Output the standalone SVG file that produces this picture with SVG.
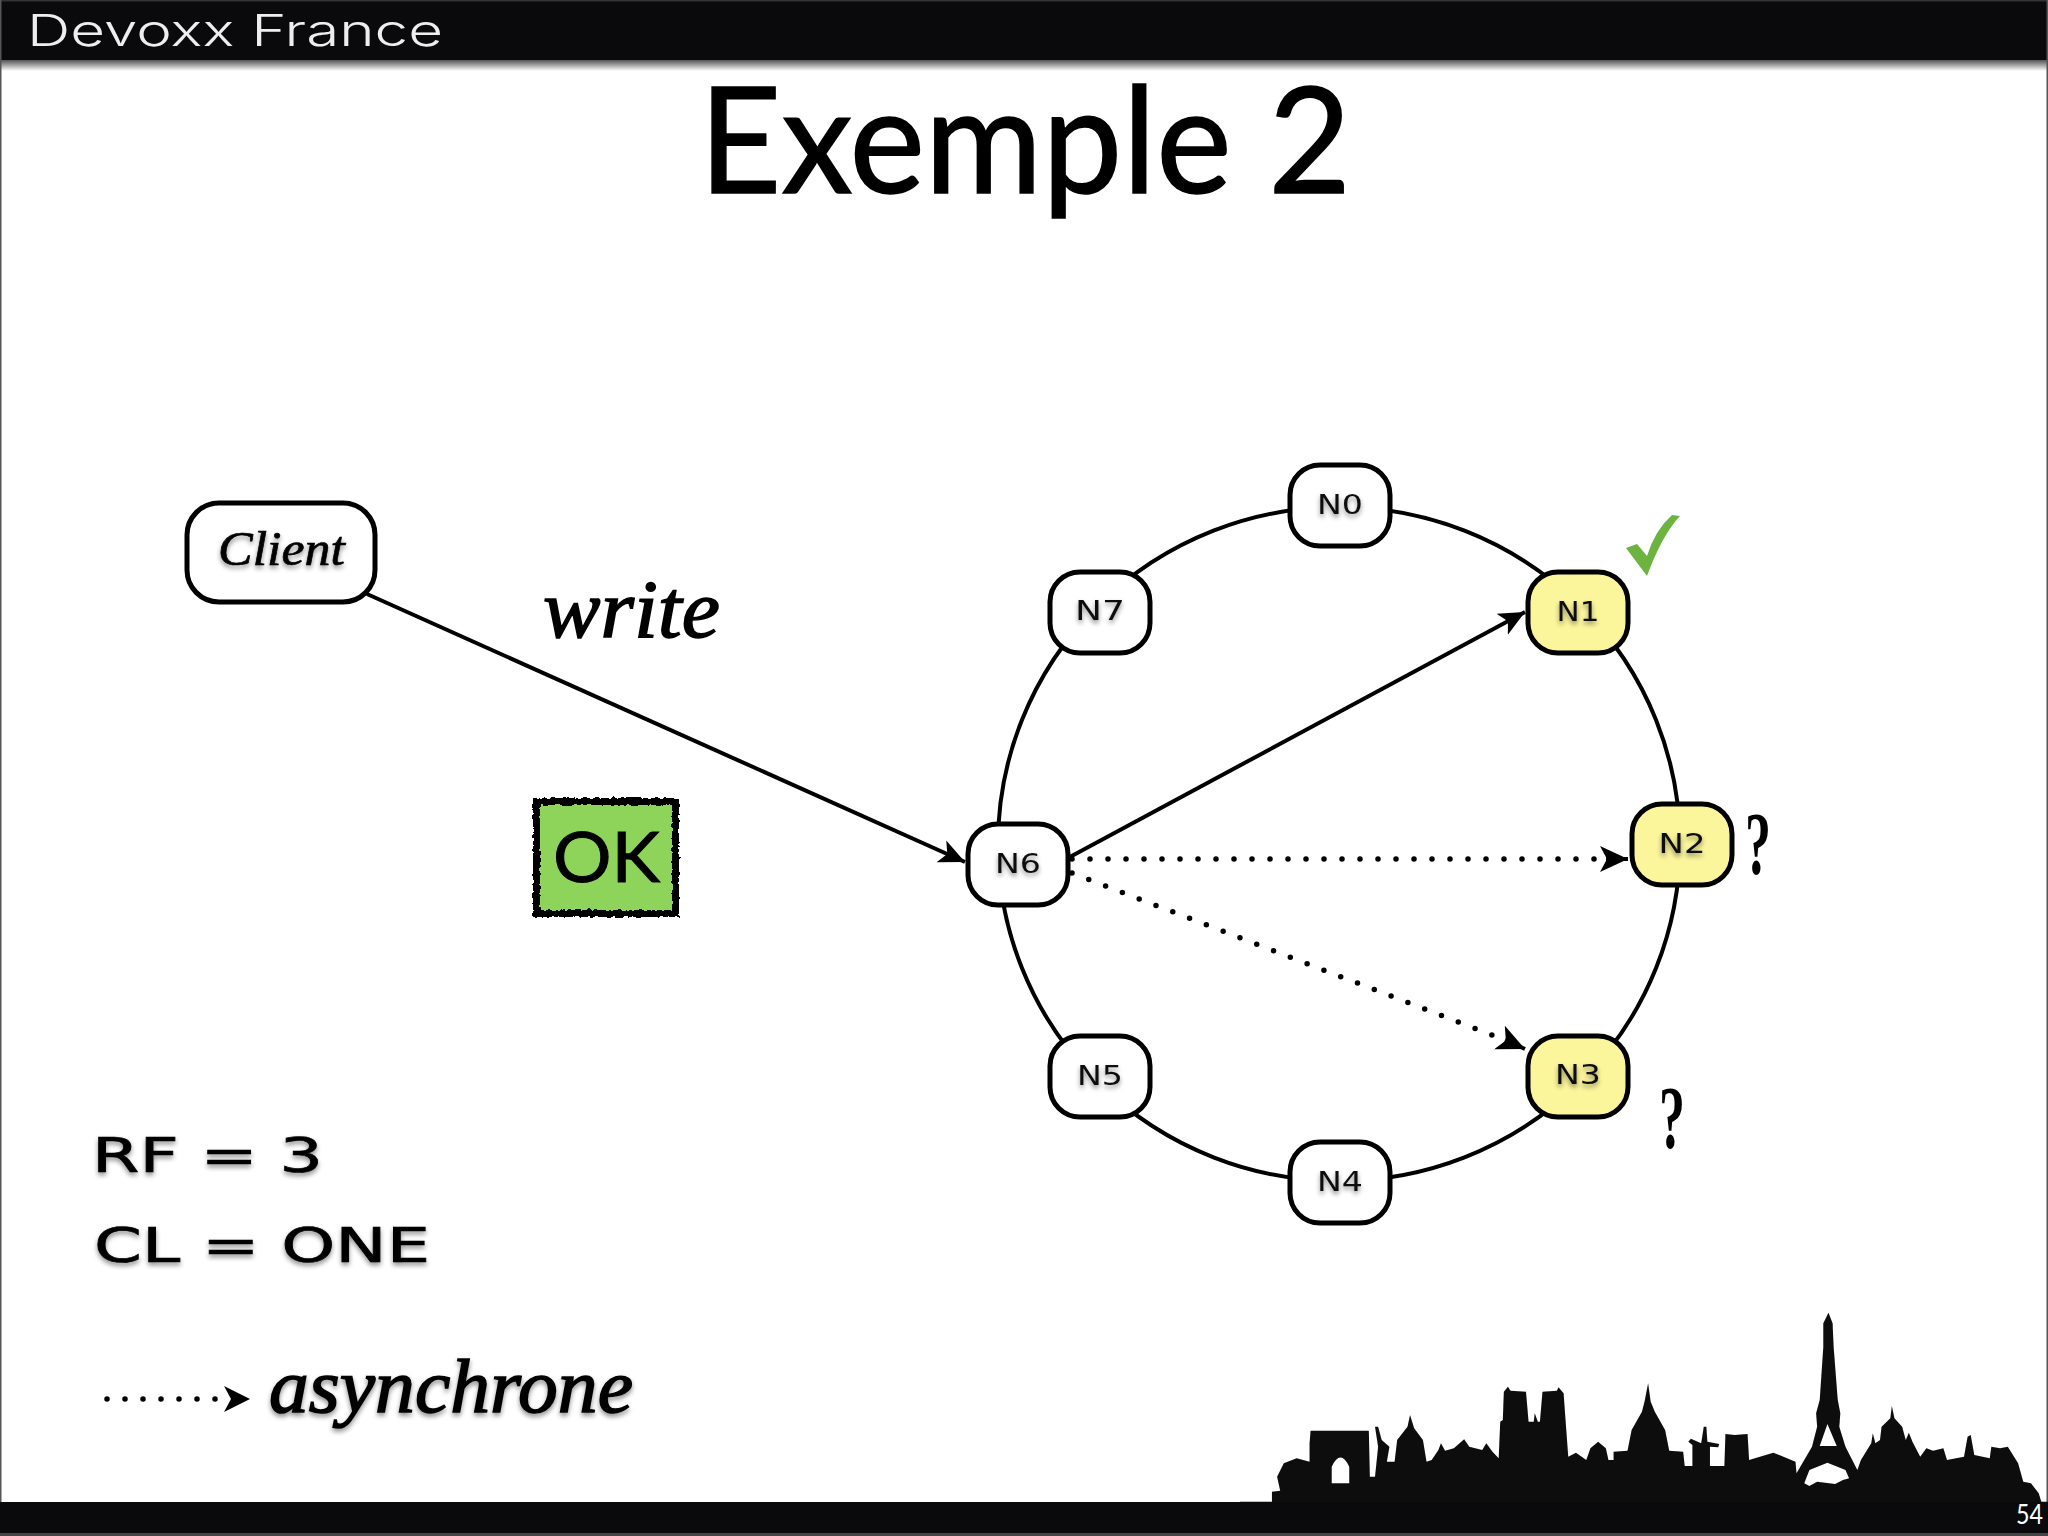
<svg xmlns="http://www.w3.org/2000/svg" width="2048" height="1536" viewBox="0 0 2048 1536">
<style>
.node{stroke:#000;stroke-width:5;fill:#fff}
.hot{fill:#fbf59b}
.lbl{font-family:"DejaVu Sans",sans-serif;font-size:26px;fill:#111;text-anchor:middle;filter:url(#ts)}
.hand{font-family:"Liberation Serif",serif;font-style:italic;fill:#000}
.caps{font-family:"DejaVu Sans",sans-serif;font-size:48px;fill:#000;stroke:#000;stroke-width:.7;filter:url(#ts)}
.conn{fill:none;stroke:#000;stroke-width:4}
.dot{stroke-width:5.5;stroke-linecap:round;stroke-dasharray:0 18}
.q{font-family:"Liberation Serif",serif;font-weight:bold;font-size:88px;fill:#000;text-anchor:middle}
</style>
<defs>
<marker id="arrow" markerUnits="userSpaceOnUse" markerWidth="28" markerHeight="28" refX="24" refY="12" orient="auto" viewBox="0 0 26 24"><path d="M0 1L24 12L0 23L6 12Z" fill="#000"/></marker>
<marker id="big" markerUnits="userSpaceOnUse" markerWidth="30" markerHeight="28" refX="28" refY="13" orient="auto" viewBox="0 0 30 28"><path d="M0 0L28 13L0 26L7 13Z" fill="#000"/></marker>
<linearGradient id="sh" x1="0" y1="0" x2="0" y2="1"><stop offset="0" stop-color="#444"/><stop offset="1" stop-color="#fff"/></linearGradient>
<filter id="ts" x="-20%" y="-30%" width="140%" height="170%"><feGaussianBlur in="SourceAlpha" stdDeviation="2.5"/><feOffset dy="3"/><feComponentTransfer><feFuncA type="linear" slope=".45"/></feComponentTransfer><feMerge><feMergeNode/><feMergeNode in="SourceGraphic"/></feMerge></filter>
<filter id="soft"><feGaussianBlur stdDeviation="1.4"/></filter>
<filter id="rough" x="-5%" y="-5%" width="110%" height="110%"><feTurbulence type="fractalNoise" baseFrequency=".25" numOctaves="2" seed="4"/><feDisplacementMap in="SourceGraphic" scale="5"/></filter>
</defs>
<rect width="2048" height="1536" fill="#fff"/>
<g id="frame">
<rect y="59" width="2048" height="12" fill="url(#sh)"/>
<rect width="2048" height="60" fill="#0a0a0c"/>
<rect width="2048" height="1.5" fill="#333"/>
<rect width="1.5" height="1536" fill="#555"/>
<rect x="2046.5" width="1.5" height="1536" fill="#555"/>
<text x="27" y="46" font-family="Inter,sans-serif" font-weight="300" font-size="44" fill="#eee" textLength="416" lengthAdjust="spacingAndGlyphs">Devoxx France</text>
<path filter="url(#soft)" fill="#0a0a0c" fill-rule="evenodd" transform="translate(1240 1280) scale(.5153 .3333)" d="M0 665L62 665L62 635L78 632L72 590L85 550L110 535L135 545L135 490L137 452L250 452L252 590L262 590L268 500L262 440L268 440L275 480L290 500L285 545L300 545L305 480L325 440L330 405L338 445L355 480L362 545L372 540L385 510L390 490L398 512L415 505L435 478L445 500L470 510L478 490L490 515L502 535L505 425L510 420L512 335L520 320L525 332L555 335L560 425L570 425L572 400L578 425L582 425L587 335L615 332L618 322L628 340L632 425L637 530L652 518L672 540L680 505L695 485L710 505L715 540L725 540L725 515L752 512L760 450L780 395L785 365L792 310L797 365L805 395L825 450L833 512L860 515L863 558L878 558L878 495L870 485L875 476L895 490L900 440L905 440L907 485L930 492L928 502L912 500L912 558L940 558L942 462L960 465L985 462L988 540L1035 518L1078 545L1080 580L1110 500L1120 440L1118 400L1125 360L1132 200L1132 130L1142 98L1150 130L1152 200L1160 360L1165 400L1163 440L1175 500L1198 570L1205 540L1225 490L1228 460L1233 490L1242 480L1245 440L1262 415L1265 378L1270 415L1285 440L1292 480L1298 458L1305 485L1320 530L1332 505L1345 512L1365 505L1372 540L1405 530L1412 470L1418 465L1425 525L1455 535L1458 500L1475 505L1490 500L1510 550L1520 605L1535 610L1550 640L1555 665L1568 665L1568 760L0 760ZM178 610L178 560Q195 505 212 560L212 610ZM1125 498L1140 432L1158 498ZM1095 610L1105 570L1140 548L1175 570L1182 595L1170 600L1155 612L1120 605L1105 618Z"/>
<rect y="1502" width="2048" height="31" fill="#0a0a0c"/>
<rect y="1533" width="2048" height="3" fill="#444"/>
<text x="2016" y="1524" font-family="Lato,sans-serif" font-size="26" fill="#fff" textLength="27" lengthAdjust="spacingAndGlyphs">54</text>
</g>
<text id="title" x="699" y="193" font-family="Lato,sans-serif" font-size="148" fill="#000" stroke="#000" stroke-width="1.5" textLength="652" lengthAdjust="spacingAndGlyphs">Exemple 2</text>
<g id="connectors">
<ellipse class="conn" cx="1339" cy="844" rx="341" ry="337"/>
<path class="conn" d="M367 594L965 862" marker-end="url(#arrow)"/>
<path class="conn" d="M1068 858L1525 612" marker-end="url(#arrow)"/>
<path class="conn dot" d="M1072 859L1612 859"/>
<path class="conn" d="M1606 859L1628 859" stroke-width="0" marker-end="url(#big)"/>
<path class="conn dot" d="M1072 873L1505 1040"/>
<path class="conn" d="M1505 1040L1525 1049" stroke-width="0" marker-end="url(#big)"/>
</g>
<g id="client"><rect class="node" x="187" y="503" width="188" height="99" rx="32"/><text x="218" y="565" class="hand" font-size="48" textLength="127" lengthAdjust="spacingAndGlyphs" stroke="#000" stroke-width=".7" filter="url(#ts)">Client</text></g>
<g id="n0"><rect class="node" x="1290" y="465" width="100" height="81" rx="30"/><text class="lbl" x="1340" y="514" textLength="46" lengthAdjust="spacingAndGlyphs">N0</text></g>
<g id="n1"><rect class="node hot" x="1528" y="572" width="100" height="81" rx="30"/><text class="lbl" x="1578" y="621" textLength="43" lengthAdjust="spacingAndGlyphs">N1</text></g>
<g id="n2"><rect class="node hot" x="1632" y="804" width="100" height="81" rx="30"/><text class="lbl" x="1682" y="853" textLength="47" lengthAdjust="spacingAndGlyphs">N2</text></g>
<g id="n3"><rect class="node hot" x="1528" y="1036" width="100" height="81" rx="30"/><text class="lbl" x="1578" y="1084" textLength="46" lengthAdjust="spacingAndGlyphs">N3</text></g>
<g id="n4"><rect class="node" x="1290" y="1142" width="100" height="81" rx="30"/><text class="lbl" x="1340" y="1191" textLength="46" lengthAdjust="spacingAndGlyphs">N4</text></g>
<g id="n5"><rect class="node" x="1050" y="1036" width="100" height="81" rx="30"/><text class="lbl" x="1100" y="1085" textLength="46" lengthAdjust="spacingAndGlyphs">N5</text></g>
<g id="n6"><rect class="node" x="968" y="824" width="100" height="81" rx="30"/><text class="lbl" x="1018" y="873" textLength="46" lengthAdjust="spacingAndGlyphs">N6</text></g>
<g id="n7"><rect class="node" x="1050" y="572" width="100" height="81" rx="30"/><text class="lbl" x="1100" y="620" textLength="50" lengthAdjust="spacingAndGlyphs">N7</text></g>
<text id="write" class="hand" x="543" y="637" font-size="82" textLength="177" lengthAdjust="spacingAndGlyphs" stroke="#000" stroke-width="1.5">write</text>
<g id="ok"><rect x="536.5" y="801.5" width="139" height="112" fill="#8fd45a" stroke="#000" stroke-width="7" filter="url(#rough)"/><text x="553" y="882" font-family="Lato,sans-serif" font-size="70" fill="#000" stroke="#000" stroke-width="1" textLength="107" lengthAdjust="spacingAndGlyphs">OK</text></g>
<path id="check" fill="#6cb33f" d="M1626 548L1637 544L1647 556Q1655 530 1672 515L1680 516Q1662 535 1647 576Z"/>
<text class="q" x="1758" y="873" textLength="26" lengthAdjust="spacingAndGlyphs">?</text>
<text class="q" x="1672" y="1147" textLength="26" lengthAdjust="spacingAndGlyphs">?</text>
<text class="caps" x="92" y="1172" textLength="231" lengthAdjust="spacingAndGlyphs">RF = 3</text>
<text class="caps" x="94" y="1262" textLength="336" lengthAdjust="spacingAndGlyphs">CL = ONE</text>
<g id="legend"><path class="conn dot" d="M107 1399L216 1399"/><path fill="#000" d="M224 1386L250 1399L224 1412L231 1399Z"/><text class="hand" x="269" y="1412" font-size="76" textLength="364" lengthAdjust="spacingAndGlyphs" stroke="#000" stroke-width="1.5" filter="url(#ts)">asynchrone</text></g>
</svg>
